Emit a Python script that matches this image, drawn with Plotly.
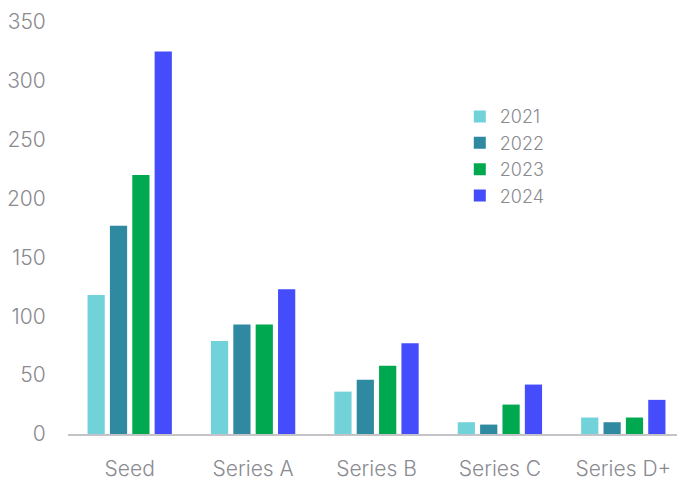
import plotly.graph_objects as go

categories = ["Seed", "Series A", "Series B", "Series C", "Series D+"]
years = ["2021", "2022", "2023", "2024"]
values_2021 = [118, 79, 36, 10, 14]
values_2022 = [177, 93, 46, 8, 10]
values_2023 = [220, 93, 58, 25, 14]
values_2024 = [325, 123, 77, 42, 29]
colors = ["#72D2D9", "#2E89A1", "#00A94F", "#444CFC"]

series = [values_2021, values_2022, values_2023, values_2024]

fig = go.Figure()
for name, vals, col in zip(years, series, colors):
    fig.add_trace(go.Bar(x=categories, y=vals, name=name, marker_color=col,
                         marker_line_width=0))

# page body has an 8px margin, so the figure is offset by 8px
fig.update_layout(
    width=677, height=473,
    margin=dict(l=60, r=0, t=14, b=47),
    barmode="group", bargap=0.275, bargroupgap=0.23,
    plot_bgcolor="white", paper_bgcolor="white",
    font=dict(family="Inter", size=21, color="#8a8a90", weight=300),
    legend=dict(x=0.635, y=0.815, xanchor="left", yanchor="top",
                font=dict(size=18, color="#8a8a90", weight=300), tracegroupgap=0,
                itemwidth=30, bgcolor="rgba(0,0,0,0)"),
    xaxis=dict(showline=True, linecolor="#c4c4c8", linewidth=1.5,
               ticks="outside", ticklen=15, tickcolor="rgba(0,0,0,0)",
               showgrid=False),
    yaxis=dict(range=[0, 350], dtick=50, showgrid=False, zeroline=False,
               showline=False, ticks="outside", ticklen=17,
               tickcolor="rgba(0,0,0,0)"),
)

fig.write_html("out.html")
